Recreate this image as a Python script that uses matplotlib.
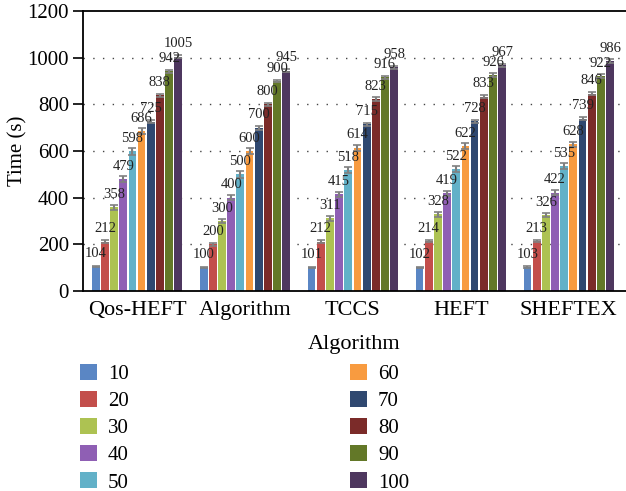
import matplotlib
matplotlib.use("Agg")
import matplotlib.pyplot as plt
import numpy as np
from matplotlib.patches import Patch

categories = ["Qos-HEFT", "Algorithm", "TCCS", "HEFT", "SHEFTEX"]
series_names = ["10", "20", "30", "40", "50", "60", "70", "80", "90", "100"]
values = {
    "10":  [104, 100, 101, 102, 103],
    "20":  [212, 200, 212, 214, 213],
    "30":  [358, 300, 311, 328, 326],
    "40":  [479, 400, 415, 419, 422],
    "50":  [598, 500, 518, 522, 535],
    "60":  [686, 600, 614, 622, 628],
    "70":  [725, 700, 715, 728, 739],
    "80":  [838, 800, 823, 833, 846],
    "90":  [942, 900, 916, 926, 922],
    "100": [1005, 945, 958, 967, 986],
}
errors = {
    "10":  [3, 3, 3, 3, 3],
    "20":  [5, 5, 5, 6, 5],
    "30":  [9, 9, 9, 9, 9],
    "40":  [12, 11, 11, 11, 11],
    "50":  [13, 14, 13, 13, 13],
    "60":  [13, 12, 12, 12, 12],
    "70":  [7, 8, 7, 7, 7],
    "80":  [7, 7, 7, 7, 7],
    "90":  [7, 6, 7, 7, 7],
    "100": [7, 7, 7, 7, 7],
}
colors = ["#5A86C4", "#C34E4B", "#ADC252", "#8F5FB4", "#62B1C8",
          "#F89B40", "#2F4870", "#7B2B29", "#637828", "#4E375F"]
yticks = [0, 200, 400, 600, 800, 1000, 1200]

plt.rcParams['font.family'] = ['Liberation Serif', 'DejaVu Serif']

fig = plt.figure(figsize=(6.26, 4.91), dpi=100)
ax = fig.add_axes([83/626, 1-291/491, 1-83/626, (291-11)/491])

x = np.arange(len(categories))
slot = 0.085
bw = 0.072
n = len(series_names)
for i, name in enumerate(series_names):
    pos = x + (i - (n - 1) / 2) * slot
    ax.bar(pos, values[name], width=bw, color=colors[i], zorder=2,
           yerr=errors[name], ecolor="#808080",
           error_kw=dict(elinewidth=1.5, capsize=3, capthick=1.2, zorder=3))
    for p, v, e in zip(pos, values[name], errors[name]):
        ax.text(p, v + 40, str(v), ha="center", va="baseline",
                fontsize=10.5, color="#222222", zorder=4)

ax.set_xlim(-0.5, 4.53)
ax.set_ylim(0, 1200)
ax.set_yticks(yticks)
ax.set_yticklabels([str(t) for t in yticks], fontsize=15)
ax.set_xticks(x)
ax.set_xticklabels(categories, fontsize=16)
ax.tick_params(axis="x", length=0, pad=7)
ax.tick_params(axis="y", length=7, width=1.2, direction="out", pad=3)
for t in [200, 400, 600, 800, 1000]:
    ax.axhline(t, color="#444444", linestyle=(0, (1, 6)), linewidth=1.0, zorder=1)
ax.spines["right"].set_visible(False)
for s in ["left", "top", "bottom"]:
    ax.spines[s].set_linewidth(1.3)
ax.set_ylabel("Time (s)", fontsize=15, labelpad=0)
ax.set_xlabel("Algorithm", fontsize=16, labelpad=11)

handles = [Patch(facecolor=c, edgecolor="none") for c in colors]
fig.legend(handles, series_names, ncol=2, loc="upper left",
           bbox_to_anchor=(80/626, 1-364/491), frameon=False, fontsize=15,
           borderpad=0, borderaxespad=0,
           handlelength=0.8, handleheight=0.8, columnspacing=10.6,
           labelspacing=0.33, handletextpad=0.55)

fig.savefig("out.png", dpi=100)
